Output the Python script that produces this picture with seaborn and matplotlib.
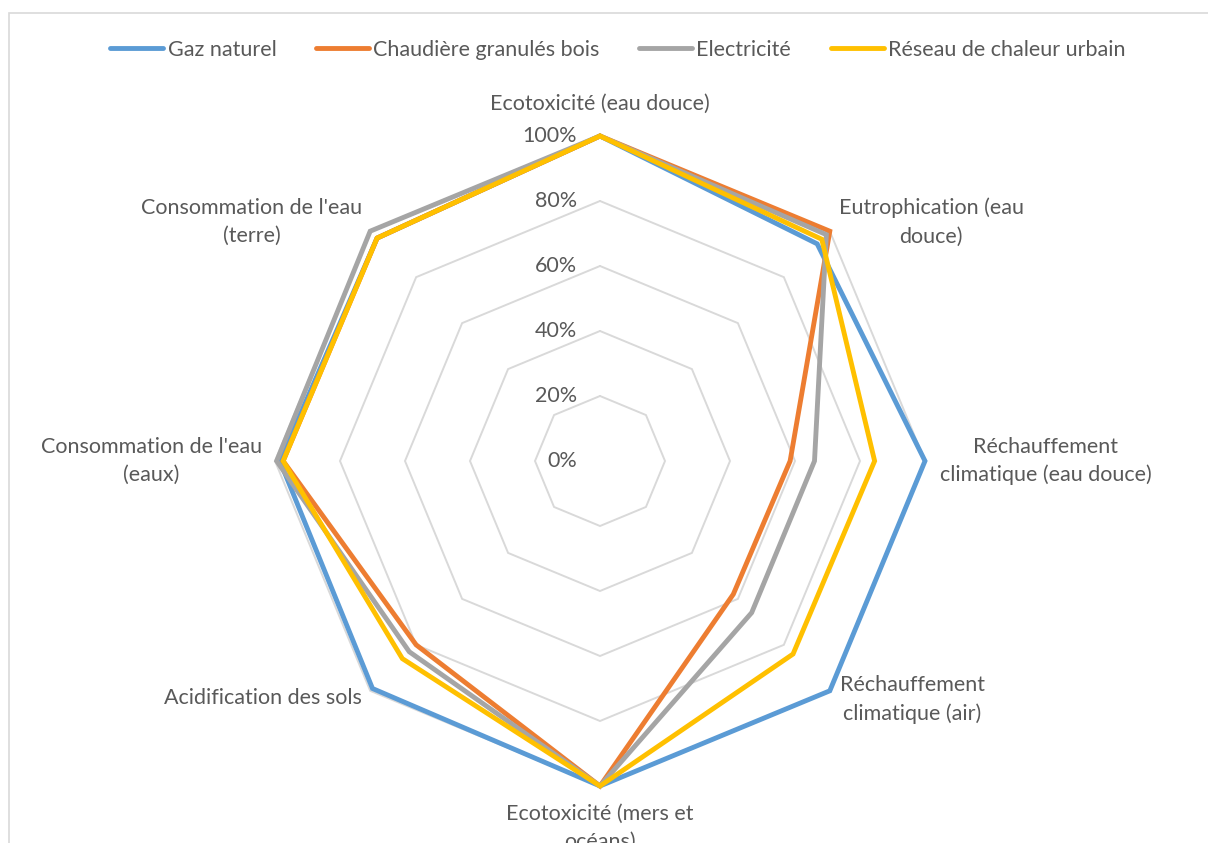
import numpy as np
import pandas as pd
import matplotlib
matplotlib.use("Agg")
import matplotlib.pyplot as plt
import matplotlib.transforms as mtransforms
from matplotlib.patches import Rectangle
import seaborn as sns

sns.set_theme(style="white")
plt.rcParams['font.family'] = ['Lato', 'DejaVu Sans']

categories = ["Ecotoxicité (eau douce)", "Eutrophication (eau\ndouce)",
              "Réchauffement\nclimatique (eau douce)", "Réchauffement\nclimatique (air)",
              "Ecotoxicité (mers et\nocéans)", "Acidification des sols",
              "Consommation de l'eau\n(eaux)", "Consommation de l'eau\n(terre)"]
series = ["Gaz naturel", "Chaudière granulés bois", "Electricité", "Réseau de chaleur urbain"]
gaz = [100, 94.5, 100, 100, 100, 99, 98.5, 97]
granules = [100, 100, 58.5, 58, 100, 80, 97.5, 97]
elec = [100, 98.5, 66, 66, 100, 83, 99.5, 100]
reseau = [100, 96.5, 84.5, 84, 100, 86, 97.5, 97]
ticks = [0, 20, 40, 60, 80, 100]
colors = ["#5B9BD5", "#ED7D31", "#A5A5A5", "#FFC000"]

n = len(categories)
theta = np.linspace(0, 2 * np.pi, n, endpoint=False)
theta_closed = np.append(theta, 2 * np.pi)

rows = []
for name, vals in zip(series, [gaz, granules, elec, reseau]):
    for t, v in zip(theta_closed, vals + vals[:1]):
        rows.append({"theta": t, "valeur": v, "serie": name})
df = pd.DataFrame(rows)

W, H = 1208, 843
fs = 15.5
fig = plt.figure(figsize=(W / 100, H / 100), dpi=100)
cx, cy, R = 600, 461, 325
ax = fig.add_axes([(cx - R) / W, (H - cy - R) / H, 2 * R / W, 2 * R / H], projection='polar')
ax.set_theta_offset(np.pi / 2)
ax.set_theta_direction(-1)
ax.set_ylim(0, 100)
ax.grid(False)
ax.spines['polar'].set_visible(False)
ax.set_xticks([])
ax.set_yticks([])
ax.patch.set_alpha(0)

# grille octogonale
for v in ticks[1:]:
    ax.plot(theta_closed, [v] * (n + 1), color="#D9D9D9", lw=1.4, clip_on=False, zorder=1)

sns.lineplot(data=df, x="theta", y="valeur", hue="serie", palette=colors,
             sort=False, estimator=None, linewidth=3.5, ax=ax, zorder=3)
for line in ax.get_lines():
    line.set_clip_on(False)
    line.set_solid_joinstyle('miter')

ax.set_xlabel("")
ax.set_ylabel("")

txtc = "#595959"
for v in ticks:
    tr = mtransforms.offset_copy(ax.transData, fig=fig, x=-23, y=0, units='dots')
    ax.text(0, v, f"{v}%", transform=tr, ha='right', va='center', fontsize=fs, color=txtc)

# libellés des axes
offsets = [(0, 32, 'center', 'center'), (9, 9, 'left', 'center'), (15, 0, 'left', 'center'),
           (10, -9, 'left', 'center'), (0, -18, 'center', 'top'), (-8, -7, 'right', 'center'),
           (-13, 0, 'right', 'center'), (-8, 9, 'right', 'center')]
for t, lab, (dx, dy, ha, va) in zip(theta, categories, offsets):
    tr = mtransforms.offset_copy(ax.transData, fig=fig, x=dx, y=dy, units='dots')
    ax.text(t, 100, lab, transform=tr, ha=ha, va=va, multialignment='center',
            fontsize=fs, color=txtc, linespacing=1.5)

sns.move_legend(ax, "center", bbox_to_anchor=(618 / W, 1 - 50 / H), bbox_transform=fig.transFigure,
                ncol=4, frameon=False, title=None, fontsize=fs, handlelength=2.45,
                handletextpad=0.2, columnspacing=1.85)
for t in ax.get_legend().get_texts():
    t.set_color(txtc)

fig.patches.append(Rectangle((9 / W, -0.1), 1.2, 1 - 13 / H + 0.1, transform=fig.transFigure,
                             fill=False, edgecolor="#D9D9D9", lw=1.2))

fig.savefig("out.png", dpi=100)
